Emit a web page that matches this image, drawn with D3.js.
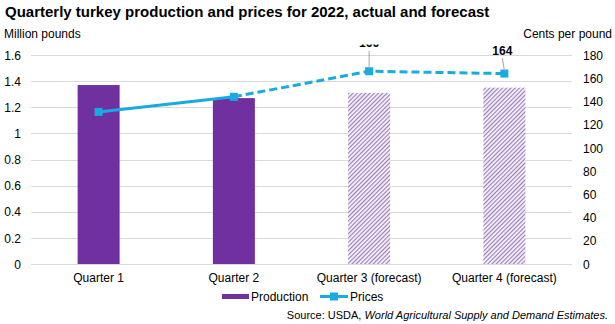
<!DOCTYPE html>
<html>
<head>
<meta charset="utf-8">
<script src="https://cdn.jsdelivr.net/npm/d3@7"></script>
<style>
  body { margin: 0; background: #fff; }
  text { font-family: "Liberation Sans", Arial, sans-serif; fill: #000; }
</style>
</head>
<body>
<svg id="chart" width="615" height="324"></svg>
<script>
var quarters = ["Quarter 1", "Quarter 2", "Quarter 3 (forecast)", "Quarter 4 (forecast)"];
var production = [1.37, 1.27, 1.31, 1.35];
var prices = [131, 144, 166, 164];
var forecast = [false, false, true, true];
var leftTicks = [0, 0.2, 0.4, 0.6, 0.8, 1, 1.2, 1.4, 1.6];
var rightTicks = [0, 20, 40, 60, 80, 100, 120, 140, 160, 180];

var purple = "#7030A0",
    blue = "#18ABE2",
    grid = "#d9d9d9";

var svg = d3.select("#chart");

var x = d3.scaleBand().domain(quarters).range([31, 572]);
var yL = d3.scaleLinear().domain([0, 1.6]).range([264, 55]);
var yR = d3.scaleLinear().domain([0, 180]).range([264, 55]);
var barW = 42;
var cx = function(q) { return x(q) + x.bandwidth() / 2; };

// hatch pattern for forecast bars
var defs = svg.append("defs");
var pat = defs.append("pattern")
  .attr("id", "hatch")
  .attr("patternUnits", "userSpaceOnUse")
  .attr("width", 3).attr("height", 3)
  .attr("patternTransform", "rotate(45)");
pat.append("rect").attr("width", 3).attr("height", 3).attr("fill", "#f4f0f8");
pat.append("rect").attr("width", 1.1).attr("height", 3).attr("fill", "#9a7bbb");

defs.append("clipPath").attr("id", "lblclip")
  .append("rect").attr("x", 0).attr("y", 44.5).attr("width", 615).attr("height", 300);

// title
svg.append("text").attr("x", 5).attr("y", 17)
  .attr("font-size", 15).attr("font-weight", "bold")
  .text("Quarterly turkey production and prices for 2022, actual and forecast");

svg.append("text").attr("x", 4).attr("y", 38).attr("font-size", 12).text("Million pounds");
svg.append("text").attr("x", 612).attr("y", 38).attr("font-size", 12)
  .attr("text-anchor", "end").text("Cents per pound");

// gridlines
svg.append("g").selectAll("line").data(leftTicks).enter().append("line")
  .attr("x1", 31).attr("x2", 572)
  .attr("y1", function(d) { return Math.round(yL(d)) + 0.5; })
  .attr("y2", function(d) { return Math.round(yL(d)) + 0.5; })
  .attr("stroke", grid).attr("stroke-width", 1);

// left axis
var axL = svg.append("g").attr("transform", "translate(21,0)")
  .call(d3.axisLeft(yL).tickValues(leftTicks).tickSize(0).tickPadding(0)
    .tickFormat(d3.format("~g")));
axL.select(".domain").remove();
axL.selectAll("text").attr("font-size", 12).attr("font-family", null).attr("dy", "0.35em");

// right axis
var axR = svg.append("g").attr("transform", "translate(583,0)")
  .call(d3.axisRight(yR).tickValues(rightTicks).tickSize(0).tickPadding(0));
axR.select(".domain").remove();
axR.selectAll("text").attr("font-size", 12).attr("font-family", null).attr("dy", "0.35em");

// bars
svg.append("g").selectAll("rect").data(quarters).enter().append("rect")
  .attr("x", function(d) { return cx(d) - barW / 2; })
  .attr("width", barW)
  .attr("y", function(d, i) { return yL(production[i]); })
  .attr("height", function(d, i) { return yL(0) - yL(production[i]); })
  .attr("fill", function(d, i) { return forecast[i] ? "url(#hatch)" : purple; });

// x labels
svg.append("g").selectAll("text").data(quarters).enter().append("text")
  .attr("x", cx).attr("y", 282).attr("font-size", 12)
  .attr("text-anchor", "middle").text(function(d) { return d; });

// price line: solid for actual, dashed into forecast
var pts = quarters.map(function(q, i) { return [cx(q), yR(prices[i])]; });
var line = d3.line();
svg.append("path").attr("d", line(pts.slice(0, 2)))
  .attr("fill", "none").attr("stroke", blue).attr("stroke-width", 3);
svg.append("path").attr("d", line(pts.slice(1)))
  .attr("fill", "none").attr("stroke", blue).attr("stroke-width", 3)
  .attr("stroke-dasharray", "8,4");

svg.append("g").selectAll("rect").data(pts).enter().append("rect")
  .attr("x", function(d) { return d[0] - 4; })
  .attr("y", function(d) { return d[1] - 4; })
  .attr("width", 8).attr("height", 8).attr("fill", blue);

// data labels with leader lines
svg.append("line")
  .attr("x1", pts[2][0]).attr("x2", pts[2][0])
  .attr("y1", 51).attr("y2", pts[2][1] - 3)
  .attr("stroke", "#a6a6a6");
svg.append("text").attr("x", pts[2][0]).attr("y", 46.5)
  .attr("font-size", 12).attr("font-weight", "bold").attr("text-anchor", "middle")
  .attr("clip-path", "url(#lblclip)")
  .text(prices[2]);

svg.append("line")
  .attr("x1", pts[3][0] - 2).attr("x2", pts[3][0])
  .attr("y1", 58).attr("y2", pts[3][1] - 3)
  .attr("stroke", "#a6a6a6");
svg.append("text").attr("x", pts[3][0] - 2).attr("y", 55)
  .attr("font-size", 12).attr("font-weight", "bold").attr("text-anchor", "middle")
  .text(prices[3]);

// legend
var lg = svg.append("g");
lg.append("rect").attr("x", 222).attr("y", 294).attr("width", 27).attr("height", 5).attr("fill", purple);
lg.append("text").attr("x", 251).attr("y", 301).attr("font-size", 12).text("Production");
lg.append("line").attr("x1", 320).attr("x2", 348).attr("y1", 296.5).attr("y2", 296.5)
  .attr("stroke", blue).attr("stroke-width", 3);
lg.append("rect").attr("x", 330).attr("y", 292.5).attr("width", 8).attr("height", 8).attr("fill", blue);
lg.append("text").attr("x", 350).attr("y", 301).attr("font-size", 12).text("Prices");

// source
var src = svg.append("text").attr("x", 608).attr("y", 319).attr("font-size", 11)
  .attr("text-anchor", "end");
src.append("tspan").text("Source: USDA, ");
src.append("tspan").attr("font-style", "italic").text("World Agricultural Supply and Demand Estimates.");
</script>
</body>
</html>
